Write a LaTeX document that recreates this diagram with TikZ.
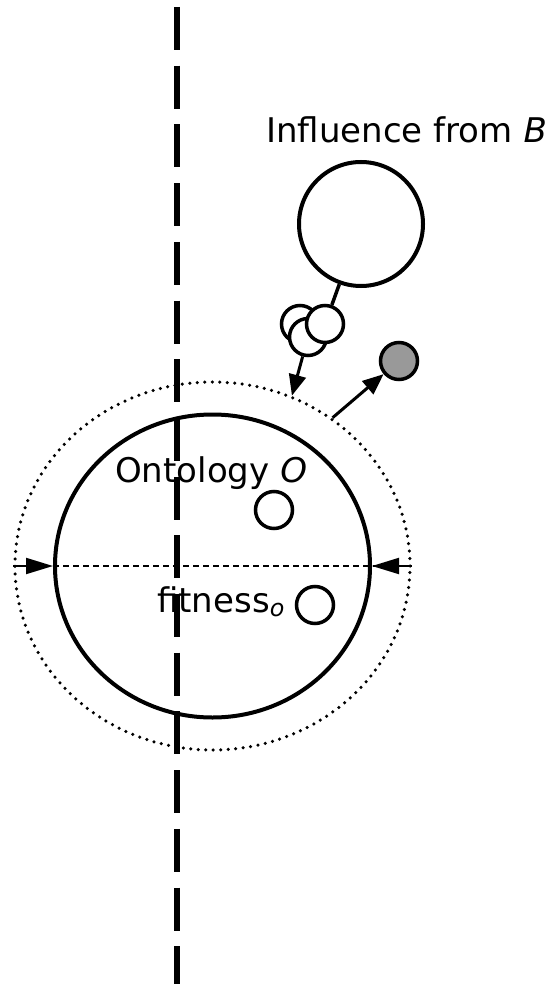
\documentclass[tikz,border=0pt]{standalone}
\usepackage{fontspec}
\setmainfont{DejaVu Sans}
\usepackage{xcolor}
\usetikzlibrary{arrows.meta, positioning, shapes.geometric}
\definecolor{AgentGray}{RGB}{153,153,153}

\begin{document}
\begin{tikzpicture}[
    x=1pt, y=-1pt,
    blob/.style={circle, draw, line width=3.5pt, fill=white, minimum size=37pt, inner sep=0pt},
    txt/.style={font=\fontsize{34}{40}\selectfont, inner sep=0pt, anchor=base west},
    arrow/.style={-{Triangle[length=21pt, width=17pt]}, line width=3pt},
    push/.style={-{Triangle[length=27pt, width=16pt]}, line width=2pt},
    divider/.style={line width=5.5pt, dash pattern=on 43pt off 15.7pt}
]
\useasboundingbox (0,0) rectangle (548,984);

% ontology and its range
\node[ellipse, draw, line width=3.5pt, line cap=round, dash pattern=on 0pt off 7.5pt,
      minimum width=395pt, minimum height=368pt, inner sep=0pt] (range) at (212.5,566) {};
\node[ellipse, draw, line width=4pt, minimum width=315pt, minimum height=303pt,
      inner sep=0pt] (ont) at (212.5,566) {};
\draw[line width=1.8pt, dash pattern=on 6pt off 4pt] (range.west) -- (range.east);
\draw[push] (range.west) -- (ont.west);
\draw[push] (range.east) -- (ont.east);

% influence
\node[circle, draw, line width=4pt, minimum size=124pt, inner sep=0pt] (infl) at (361,224) {};
\node[blob] (c1) at (300,324) {};
\node[blob] (c2) at (308,337) {};
\node[blob] (c3) at (325,324) {};
\draw[line width=3.5pt] (infl) -- (c3);
\draw[arrow] (c2) -- (range.65);
\node[blob, fill=AgentGray] (agent) at (399,361) {};
\draw[arrow] (range.51) -- (agent);

% members
\node[blob] (o1) at (274,510) {};
\node[blob] (o2) at (315,605) {};

% labels
\node[txt] (infllabel) at (266,143) {Influence from \textit{B}};
\node[txt] (ontlabel) at (115,482) {Ontology \textit{O}};
\node[txt] (fitlabel) at (157,612) {fitness\textsubscript{\textit{o}}};

% boundary
\coordinate (axtop) at (177,7);
\coordinate (axbot) at (177,984);
\draw[divider] (axtop) -- (axbot);
\end{tikzpicture}
\end{document}
